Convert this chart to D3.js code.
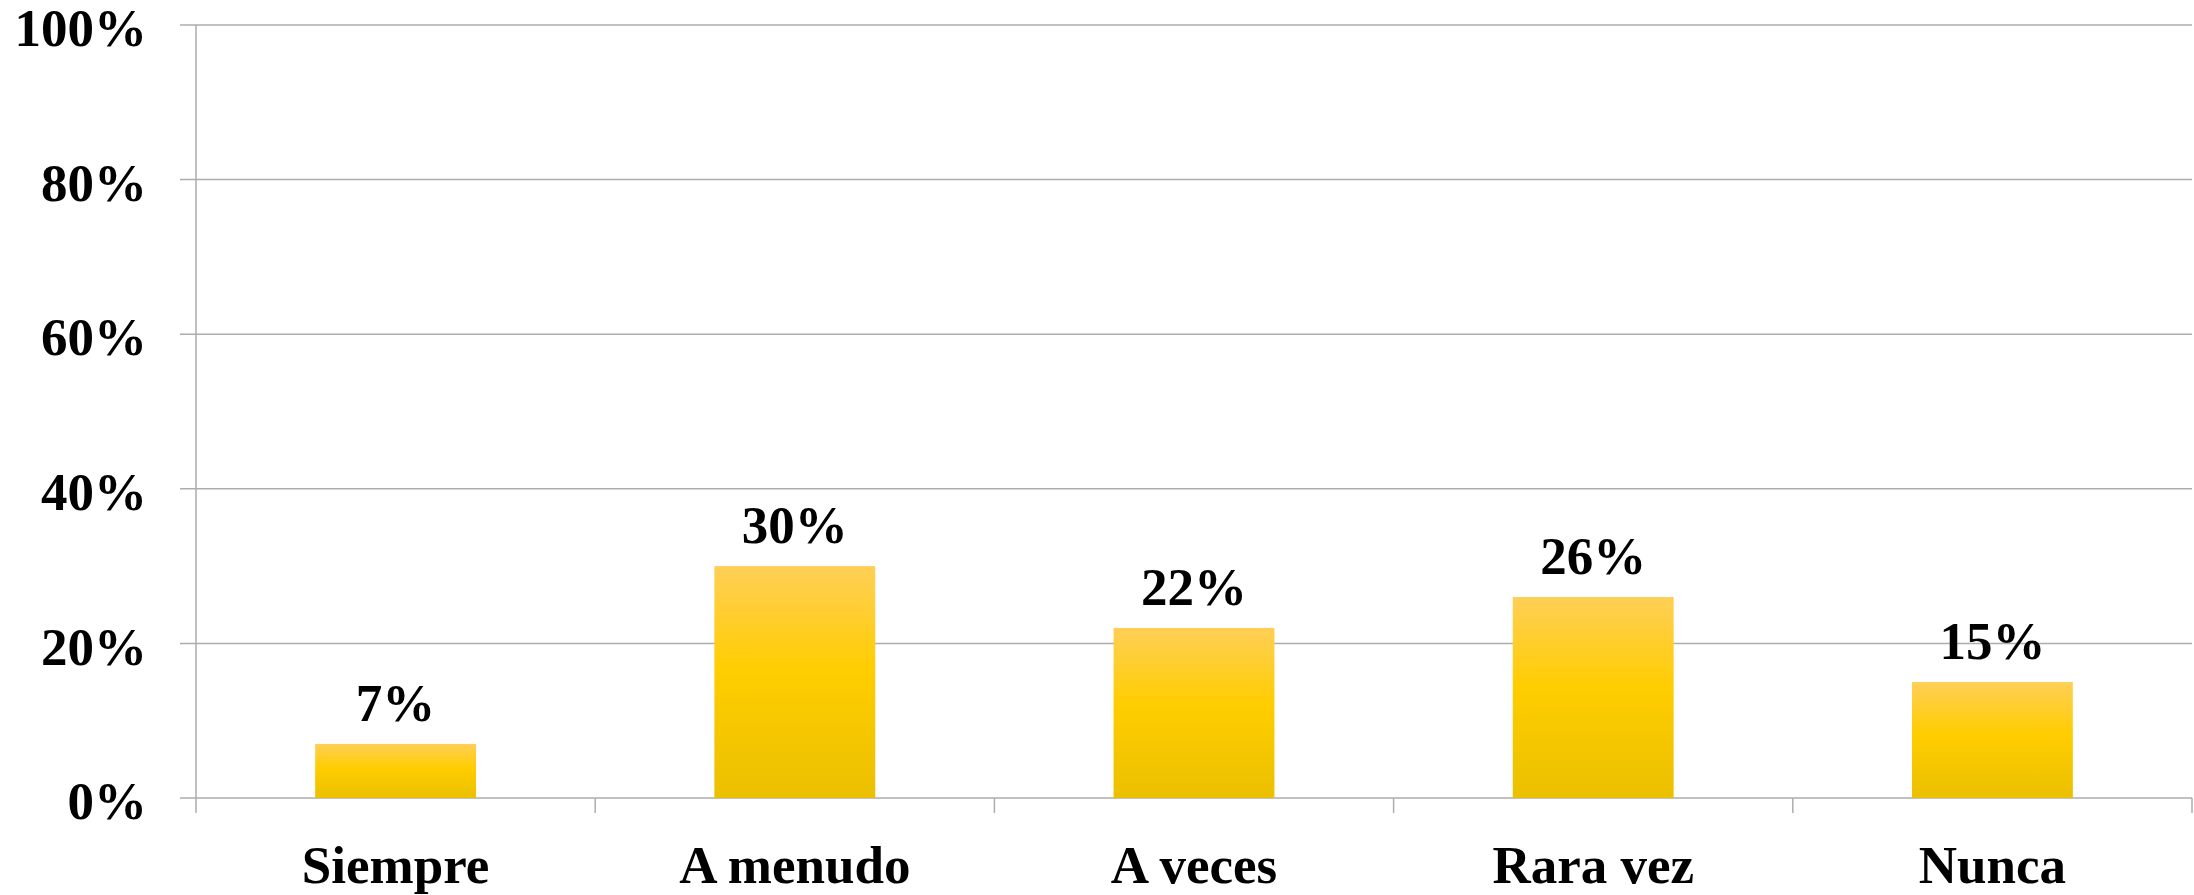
<!DOCTYPE html>
<html>
<head>
<meta charset="utf-8">
<script src="https://cdn.jsdelivr.net/npm/d3@7"></script>
<style>
  html, body { margin: 0; padding: 0; background: #fff; }
  svg { display: block; }
</style>
</head>
<body>
<svg id="chart" width="2194" height="895"></svg>
<script>
// Response frequency distribution
const categories = ["Siempre", "A menudo", "A veces", "Rara vez", "Nunca"];
const values = [7, 30, 22, 26, 15];
const yTicks = [0, 20, 40, 60, 80, 100];

const width = 2194, height = 895;
const margin = { top: 25, right: 2, bottom: 97, left: 196 };
const plotW = width - margin.left - margin.right;
const plotH = height - margin.top - margin.bottom;

const svg = d3.select("#chart");

const defs = svg.append("defs");
const grad = defs.append("linearGradient")
  .attr("id", "barFill")
  .attr("x1", 0).attr("y1", 0).attr("x2", 0).attr("y2", 1);
grad.append("stop").attr("offset", "0%").attr("stop-color", "#FFCF57");
grad.append("stop").attr("offset", "45%").attr("stop-color", "#FFCD00");
grad.append("stop").attr("offset", "100%").attr("stop-color", "#EBC000");

const g = svg.append("g").attr("transform", `translate(${margin.left},${margin.top})`);

const x = d3.scaleBand()
  .domain(categories)
  .range([0, plotW])
  .paddingInner(0.597)
  .paddingOuter(0.2985);

const y = d3.scaleLinear().domain([0, 100]).range([plotH, 0]);

const gridColor = "#ADADAD";
const font = "'Liberation Serif', 'Times New Roman', serif";

// Horizontal gridlines with short left ticks
g.append("g")
  .selectAll("line")
  .data(yTicks)
  .join("line")
  .attr("x1", -16)
  .attr("x2", plotW)
  .attr("y1", d => y(d))
  .attr("y2", d => y(d))
  .attr("stroke", gridColor)
  .attr("stroke-width", 1.5);

// Vertical axis line
g.append("line")
  .attr("x1", 0).attr("x2", 0)
  .attr("y1", 0).attr("y2", plotH + 15)
  .attr("stroke", gridColor)
  .attr("stroke-width", 1.5);

// Category boundary ticks below the baseline
const step = x.step();
const boundaries = d3.range(categories.length + 1).map(i => i * step);
g.append("g")
  .selectAll("line")
  .data(boundaries.slice(1))
  .join("line")
  .attr("x1", d => d).attr("x2", d => d)
  .attr("y1", plotH).attr("y2", plotH + 15)
  .attr("stroke", gridColor)
  .attr("stroke-width", 1.5);

// Y tick labels
g.append("g")
  .selectAll("text")
  .data(yTicks)
  .join("text")
  .attr("x", -49)
  .attr("y", d => y(d))
  .attr("dy", "0.40em")
  .attr("text-anchor", "end")
  .attr("font-family", font)
  .attr("font-weight", "bold")
  .attr("font-size", 53)
  .attr("fill", "#000")
  .text(d => d + "%");

// Bars
const data = categories.map((c, i) => ({ c, v: values[i] }));
g.append("g")
  .selectAll("rect")
  .data(data)
  .join("rect")
  .attr("x", d => x(d.c))
  .attr("y", d => y(d.v))
  .attr("width", x.bandwidth())
  .attr("height", d => plotH - y(d.v))
  .attr("fill", "url(#barFill)");

// Value labels
g.append("g")
  .selectAll("text")
  .data(data)
  .join("text")
  .attr("x", d => x(d.c) + x.bandwidth() / 2)
  .attr("y", d => y(d.v) - 23)
  .attr("text-anchor", "middle")
  .attr("font-family", font)
  .attr("font-weight", "bold")
  .attr("font-size", 53)
  .attr("fill", "#000")
  .text(d => d.v + "%");

// Category labels
g.append("g")
  .selectAll("text")
  .data(categories)
  .join("text")
  .attr("x", d => x(d) + x.bandwidth() / 2)
  .attr("y", plotH + 85)
  .attr("text-anchor", "middle")
  .attr("font-family", font)
  .attr("font-weight", "bold")
  .attr("font-size", 53)
  .attr("fill", "#000")
  .text(d => d);
</script>
</body>
</html>
